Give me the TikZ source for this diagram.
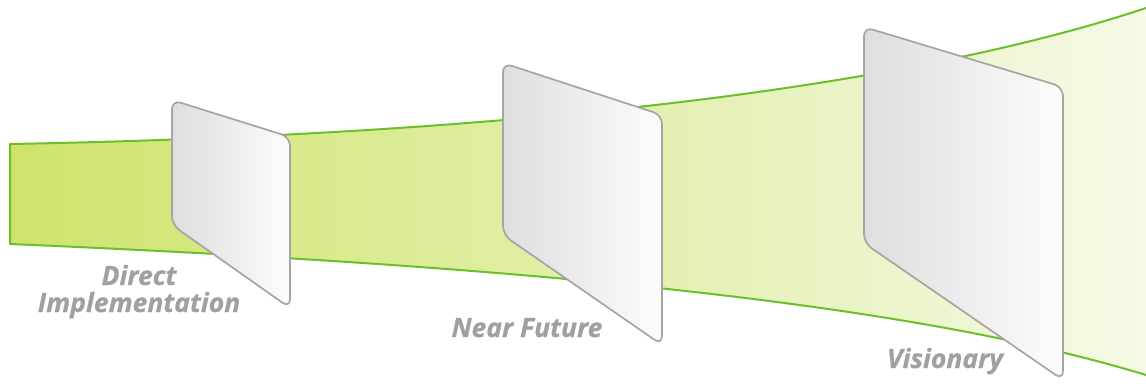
\documentclass[tikz,border=0pt]{standalone}
\usepackage{fontspec}
\setmainfont{Open Sans}
\newfontfamily\labelfont{Open Sans}[BoldItalicFeatures={FakeBold=0.7}]
\definecolor{bandL}{RGB}{206,228,108}
\definecolor{bandR}{RGB}{245,249,230}
\definecolor{bandEdge}{RGB}{108,190,42}
\definecolor{panelL}{RGB}{222,222,222}
\definecolor{panelR}{RGB}{252,252,252}
\definecolor{panelEdge}{RGB}{165,165,165}
\definecolor{labelGray}{RGB}{160,160,160}
\tikzset{
  panelbox/.style={left color=panelL, right color=panelR, draw=panelEdge, line width=1.7pt, rounded corners=9pt, line join=round},
  stagelabel/.style={font=\labelfont\fontsize{26.5}{30}\selectfont\bfseries\itshape, text=labelGray, anchor=base, inner sep=0pt}
}
\begin{document}
\begin{tikzpicture}[x=1pt,y=-1pt]
\useasboundingbox (0,0) rectangle (1146,383);
% band
\shade[left color=bandL, right color=bandR]
  (10,144) .. controls (500,135) and (900,90) .. (1146,8)
  -- (1146,375) .. controls (900,300) and (500,265) .. (10,244) -- cycle;
\draw[bandEdge, line width=2pt, line join=round]
  (1146,8) .. controls (900,90) and (500,135) .. (10,144)
  -- (10,244) .. controls (500,265) and (900,300) .. (1146,375);
% labels
\node[stagelabel] (l1a) at (139,285) {Direct};
\node[stagelabel] (l1b) at (139,312) {Implementation};
\node[stagelabel] (l2) at (527,337) {Near Future};
\node[stagelabel] (l3) at (945,368) {Visionary};
% panels
\shadedraw[panelbox] (172,100) -- (290,137) -- (290,308) -- (172,225) -- cycle;
\shadedraw[panelbox] (503,63) -- (662,115) -- (662,345) -- (503,235) -- cycle;
\shadedraw[panelbox] (864,27) -- (1063,87) -- (1063,380) -- (864,243) -- cycle;
\end{tikzpicture}
\end{document}
